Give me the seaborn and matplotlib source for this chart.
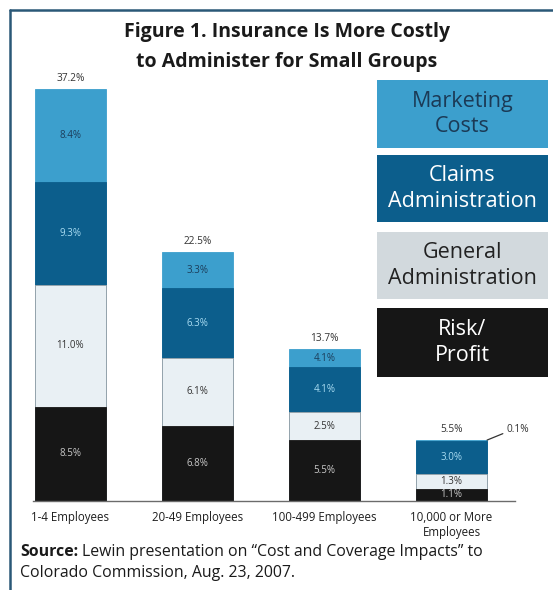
import matplotlib
matplotlib.use("Agg")
import matplotlib.pyplot as plt
from matplotlib.patches import Rectangle
from matplotlib.lines import Line2D
import seaborn as sns
import pandas as pd
import numpy as np

# ---- data -------------------------------------------------------------
groups = ["1-4 Employees", "20-49 Employees", "100-499 Employees",
          "10,000 or More\nEmployees"]
risk_profit = [8.5, 6.8, 5.5, 1.1]
general_admin = [11.0, 6.1, 2.5, 1.3]
claims_admin = [9.3, 6.3, 4.1, 3.0]
marketing = [8.4, 3.3, 1.6, 0.1]
totals = ["37.2%", "22.5%", "13.7%", "5.5%"]
# printed segment labels (the 100-499 marketing slice carries "4.1%" in print)
risk_labels = ["8.5%", "6.8%", "5.5%", "1.1%"]
general_labels = ["11.0%", "6.1%", "2.5%", "1.3%"]
claims_labels = ["9.3%", "6.3%", "4.1%", "3.0%"]
marketing_labels = ["8.4%", "3.3%", "4.1%", "0.1%"]

series_names = ["Marketing\nCosts", "Claims\nAdministration",
                "General\nAdministration", "Risk/\nProfit"]

C_MKT = "#3c9fcd"
C_CLM = "#0c5e8c"
C_GEN = "#e9f0f4"
C_GEN_KEY = "#d2d9dd"
C_RISK = "#161616"

W, H = 553, 590
FONT = "Open Sans"

sns.set_theme(style="white")
plt.rcParams["font.family"] = [FONT, "DejaVu Sans"]

fig = plt.figure(figsize=(W / 100, H / 100), dpi=100)
fig.patch.set_facecolor("white")


def fx(px):
    return px / W


def fy(py):
    return 1 - py / H


# axes: baseline at y=501, x from 33 to 515
ax = fig.add_axes([fx(33), fy(501), fx(515) - fx(33), fy(58) - fy(501)])
ax.set_facecolor("white")

df = pd.DataFrame({
    "group": groups,
    "risk": risk_profit,
    "general": general_admin,
    "claims": claims_admin,
    "marketing": marketing,
})
df["lvl1"] = df["risk"]
df["lvl2"] = df["lvl1"] + df["general"]
df["lvl3"] = df["lvl2"] + df["claims"]
df["lvl4"] = df["lvl3"] + df["marketing"]

bw = 0.56
# stacked look: draw cumulative heights tallest first
for col, color, ec in [("lvl4", C_MKT, C_MKT), ("lvl3", C_CLM, C_CLM),
                       ("lvl2", C_GEN, "#9aa4aa"), ("lvl1", C_RISK, C_RISK)]:
    sns.barplot(data=df, x="group", y=col, order=groups, color=color,
                width=bw, edgecolor=ec, linewidth=0.6, saturation=1,
                ax=ax)

ax.set_xlim(-0.295, 3.5)
ax.set_ylim(0, 40)
ax.set_xlabel("")
ax.set_ylabel("")
ax.set_yticks([])
for s in ["top", "right", "left"]:
    ax.spines[s].set_visible(False)
ax.spines["bottom"].set_color("#6b6b6b")
ax.spines["bottom"].set_linewidth(1.0)

ax.set_xticks(range(len(groups)))
ax.set_xticklabels(groups, fontsize=8.3, color="#1e1e1e", linespacing=1.25)
ax.tick_params(axis="x", which="major", length=0, pad=7)
ax.set_xticks([0.5, 1.5, 2.5, 3.5], minor=True)
ax.tick_params(axis="x", which="minor", direction="in", length=7,
               width=1.0, color="#6b6b6b")

# segment labels
lab_fs = 7.0
for i in range(len(groups)):
    r, g, c, m = risk_profit[i], general_admin[i], claims_admin[i], marketing[i]
    ax.text(i, r / 2, risk_labels[i], ha="center", va="center",
            fontsize=lab_fs, color="#c9c9c9")
    ax.text(i, r + g / 2, general_labels[i], ha="center", va="center",
            fontsize=lab_fs, color="#333333")
    ax.text(i, r + g + c / 2, claims_labels[i], ha="center", va="center",
            fontsize=lab_fs, color="#a9dcf2")
    if m > 1:
        ax.text(i, r + g + c + m / 2, marketing_labels[i], ha="center",
                va="center", fontsize=lab_fs, color="#1c3d5a")
    ax.text(i, r + g + c + m + 0.45, totals[i], ha="center", va="bottom",
            fontsize=7.3, color="#333333")

# the thin marketing slice of the last bar gets a leader line
top4 = risk_profit[3] + general_admin[3] + claims_admin[3] + marketing[3]
ax.annotate(marketing_labels[3], xy=(3 + bw / 2, top4),
            xytext=(3.43, top4 + 1.0), ha="left", va="center",
            fontsize=7.3, color="#333333",
            arrowprops=dict(arrowstyle="-", color="#333333", lw=0.9,
                            shrinkA=0, shrinkB=0, relpos=(0, 0.2)))

# title
fig.text(fx(287), fy(32), "Figure 1. Insurance Is More Costly",
         ha="center", va="center", fontsize=14, fontweight="bold",
         color="#1a1a1a")
fig.text(fx(287), fy(62), "to Administer for Small Groups",
         ha="center", va="center", fontsize=14, fontweight="bold",
         color="#1a1a1a")

# key boxes
keys = [(80, 148, C_MKT, "#1b3a56"),
        (155, 222, C_CLM, "white"),
        (232, 299, C_GEN_KEY, "#222222"),
        (308, 377, C_RISK, "white")]
kx0, kx1 = 377, 548
for (y0, y1, fc, tc), name in zip(keys, series_names):
    fig.patches.append(Rectangle((fx(kx0), fy(y1)), fx(kx1) - fx(kx0),
                                 fy(y0) - fy(y1), transform=fig.transFigure,
                                 facecolor=fc, edgecolor="none"))
    fig.text(fx((kx0 + kx1) / 2), fy((y0 + y1) / 2), name, ha="center",
             va="center", fontsize=15.5, color=tc, linespacing=1.3)

# frame
frame_c = "#2a5877"
fig.add_artist(Line2D([fx(10), fx(10)], [fy(10), 0], transform=fig.transFigure,
                      color=frame_c, lw=1.8))
fig.add_artist(Line2D([fx(10), 1], [fy(10), fy(10)], transform=fig.transFigure,
                      color=frame_c, lw=1.8))

# source note
src_fs = 11.4
t1 = fig.text(fx(20), fy(552), "Source:", ha="left", va="center",
              fontsize=src_fs, fontweight="bold", color="#1a1a1a")
fig.canvas.draw()
bb = t1.get_window_extent()
fig.text(bb.x1 / W + fx(4), fy(552),
         "Lewin presentation on \u201cCost and Coverage Impacts\u201d to",
         ha="left", va="center", fontsize=src_fs, color="#1a1a1a")
fig.text(fx(20), fy(573), "Colorado Commission, Aug. 23, 2007.", ha="left",
         va="center", fontsize=src_fs, color="#1a1a1a")

fig.savefig("out.png", dpi=100, facecolor="white")
